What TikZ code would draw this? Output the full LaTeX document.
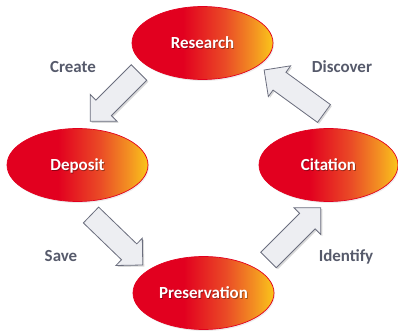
\documentclass[tikz,border=0pt]{standalone}
\usepackage{fontspec}
\setmainfont{Carlito}
\usetikzlibrary{shapes.geometric,shadows}
\definecolor{ered}{HTML}{E2001F}
\definecolor{eorangeA}{HTML}{EA4B26}
\definecolor{eorange}{HTML}{F39022}
\definecolor{eyellow}{HTML}{FAC61A}
\definecolor{lblgray}{HTML}{565A6B}
\definecolor{arrfill}{HTML}{EDEEF2}
\definecolor{arrline}{HTML}{6B6E7E}
\pgfdeclarehorizontalshading{ellgrad}{100bp}{color(0bp)=(ered); color(25bp)=(ered); color(43bp)=(ered); color(58bp)=(eorangeA); color(68bp)=(eorange); color(75bp)=(eyellow); color(100bp)=(eyellow)}
\newcommand\blockarr[3]{% tail coordinate, angle, length
  \begin{scope}[shift={(#1)}, rotate=#2]
    \draw[barrow] (0,-11) -- (#3-19,-11) -- (#3-19,-19) -- (#3,0) -- (#3-19,19) -- (#3-19,11) -- (0,11) -- cycle;
  \end{scope}}
\begin{document}
\begin{tikzpicture}[x=1bp,y=1bp,
  stage/.style={ellipse, draw=ered, line width=0.7bp, shade, shading=ellgrad,
    minimum width=141bp, minimum height=73bp, inner sep=0pt,
    drop shadow={shadow xshift=1bp, shadow yshift=-1.5bp, opacity=0.15}},
  stagetext/.style={text=white, font=\fontsize{17}{19}\selectfont\bfseries,
    inner sep=0pt, text height=10.9bp, text depth=0pt},
  stageshadow/.style={text=black, opacity=0.35, font=\fontsize{17}{19}\selectfont\bfseries,
    inner sep=0pt, text height=10.9bp, text depth=0pt},
  lbl/.style={text=lblgray, font=\fontsize{17}{19}\selectfont\bfseries,
    inner sep=0pt, text height=10.9bp, text depth=0pt},
  barrow/.style={fill=arrfill, draw=arrline, line width=0.8bp, line join=miter,
    drop shadow={shadow xshift=1.5bp, shadow yshift=-1.5bp, opacity=0.3}}]
\useasboundingbox (0,0) rectangle (398,331);

% stages
\node[stage] (research) at (202.5,288) {};
\node[stage] (deposit) at (77.5,166) {};
\node[stage, minimum width=139bp] (citation) at (328.5,166) {};
\node[stage] (preservation) at (203.5,38) {};

\foreach \n/\t in {research/Research, deposit/Deposit, citation/Citation, preservation/Preservation}{
  \node[stageshadow] (\n-shadow) at ([shift={(0.8,-0.9)}]\n.center) {\t};
  \node[stagetext] (\n-text) at (\n.center) {\t};
}

% block arrows
\coordinate (createtail) at (139,258.5);
\coordinate (discovertail) at (324,217.5);
\coordinate (savetail) at (91,116);
\coordinate (identifytail) at (268.5,71);
\blockarr{createtail}{225}{69}
\blockarr{discovertail}{144}{74}
\blockarr{savetail}{-44}{72}
\blockarr{identifytail}{45}{74}

% labels
\node[lbl] (create) at (73,264) {Create};
\node[lbl] (discover) at (342,264) {Discover};
\node[lbl] (save) at (61,75) {Save};
\node[lbl] (identify) at (346,75) {Identify};
\end{tikzpicture}
\end{document}
